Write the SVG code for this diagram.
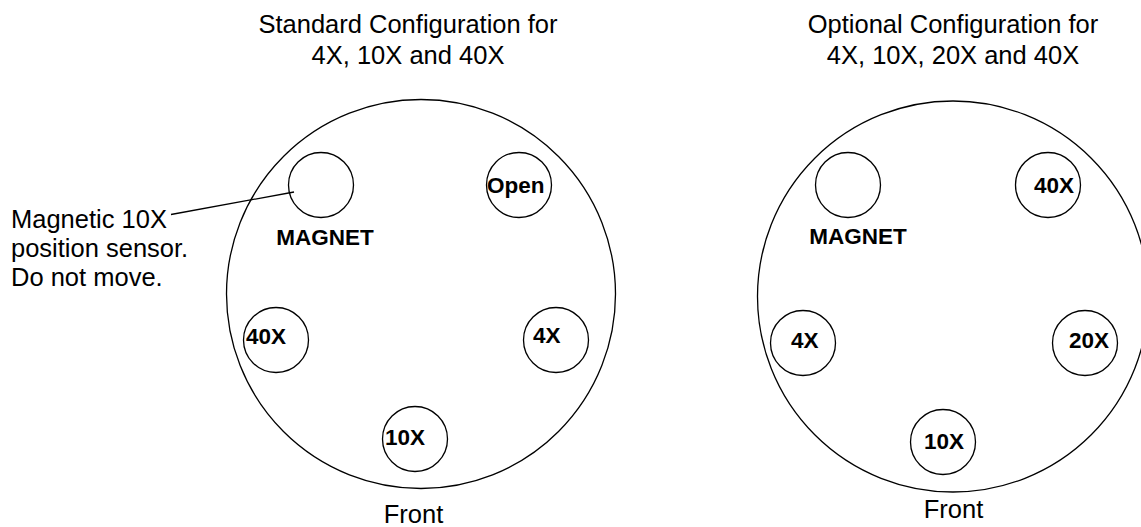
<svg xmlns="http://www.w3.org/2000/svg" width="1141" height="527" viewBox="0 0 1141 527">
<style>
.ring{fill:none;stroke:#000;stroke-width:1.3}
.t{font-family:"Liberation Sans",Arial,sans-serif;font-size:25.5px;fill:#000}
.b{font-family:"Liberation Sans",Arial,sans-serif;font-size:22.5px;font-weight:bold;fill:#000}
.m{text-anchor:middle}
</style>
<rect width="1141" height="527" fill="#fff"/>
<g id="standard">
  <g id="std-title"><text class="t m" x="408" y="33">Standard Configuration for</text><text class="t m" x="408" y="64">4X, 10X and 40X</text></g>
  <g id="std-wheel"><circle class="ring" cx="421" cy="294" r="194.5"/></g>
  <g id="std-magnet"><circle class="ring" cx="321" cy="185" r="32.5"/><text class="b m" x="325" y="245">MAGNET</text></g>
  <g id="std-open"><circle class="ring" cx="519" cy="185" r="32.5"/><text class="b" x="487" y="193">Open</text></g>
  <g id="std-40x"><circle class="ring" cx="276" cy="340" r="32.5"/><text class="b" x="246" y="344">40X</text></g>
  <g id="std-4x"><circle class="ring" cx="556" cy="340" r="32.5"/><text class="b" x="533" y="343">4X</text></g>
  <g id="std-10x"><circle class="ring" cx="415" cy="439" r="32.5"/><text class="b" x="385" y="445">10X</text></g>
  <g id="std-front"><text class="t m" x="413.5" y="523">Front</text></g>
  <g id="sensor-note"><text class="t" x="11" y="228">Magnetic 10X</text><text class="t" x="11" y="257">position sensor.</text><text class="t" x="11" y="286">Do not move.</text></g>
</g>
<g id="optional">
  <g id="opt-title"><text class="t m" x="953" y="33">Optional Configuration for</text><text class="t m" x="953" y="64">4X, 10X, 20X and 40X</text></g>
  <g id="opt-wheel"><circle class="ring" cx="953" cy="296.5" r="195.5"/></g>
  <g id="opt-magnet"><circle class="ring" cx="848" cy="185" r="32.5"/><text class="b m" x="858" y="244">MAGNET</text></g>
  <g id="opt-40x"><circle class="ring" cx="1048" cy="185" r="32.5"/><text class="b" x="1034" y="193">40X</text></g>
  <g id="opt-4x"><circle class="ring" cx="803" cy="343" r="32.5"/><text class="b" x="791" y="348">4X</text></g>
  <g id="opt-20x"><circle class="ring" cx="1085" cy="343" r="32.5"/><text class="b" x="1069" y="348">20X</text></g>
  <g id="opt-10x"><circle class="ring" cx="943" cy="442" r="32.5"/><text class="b" x="924" y="449">10X</text></g>
  <g id="opt-front"><text class="t m" x="953.5" y="518">Front</text></g>
</g>
<g id="connectors">
  <line x1="171" y1="214.5" x2="294" y2="192" stroke="#000" stroke-width="1.3"/>
</g>
</svg>
